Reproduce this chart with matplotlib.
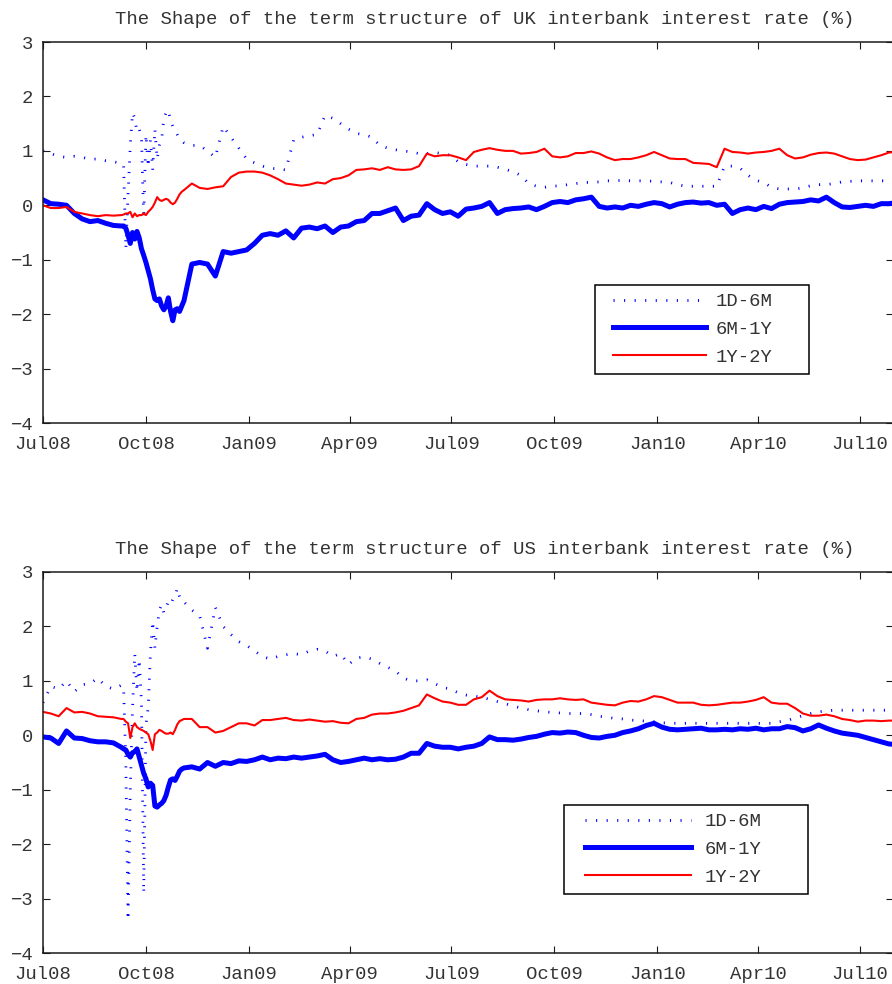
import pandas as pd
import matplotlib
matplotlib.use('Agg')
import matplotlib.pyplot as plt
import matplotlib.dates as mdates
from matplotlib.lines import Line2D
from matplotlib.legend_handler import HandlerLine2D
from datetime import datetime, timedelta

plt.rcParams['font.family'] = ['Liberation Mono', 'DejaVu Sans Mono']
plt.rcParams['font.size'] = 13.6

# sample dates: weekly, every second day through Sep/Oct 2008, then weekly again
dates = (pd.date_range('2008-07-01', '2008-09-09', freq='7D')
         .append(pd.date_range('2008-09-11', '2008-11-02', freq='2D'))
         .append(pd.date_range('2008-11-04', periods=92, freq='7D')))

# ---- UK spreads (%) ----
uk_1d6m = [1.00, 0.95, 0.90, 0.88, 0.90, 0.88, 0.85, 0.85, 0.82, 0.80, 0.77,
           0.75, -0.80, 0.20, 1.10, 1.70, 1.60, 1.35, 1.40, 1.25, -0.25,
           1.30, 0.70, 1.20, 0.65, 1.40, 0.85, 1.10, 1.20, 1.60, 1.70,
           1.75, 1.55, 1.45, 1.40, 1.30, 1.22, 1.20,
           1.15, 1.10, 1.10, 1.00, 0.88, 1.45, 1.25, 1.05, 0.85, 0.78,
           0.72, 0.68, 0.67, 0.65, 1.20, 1.25, 1.28, 1.30, 1.65, 1.60,
           1.50, 1.40, 1.32, 1.30, 1.25, 1.10, 1.05, 1.02, 1.00, 0.98,
           0.95, 0.95, 0.97, 0.95, 0.92, 0.80, 0.75, 0.72, 0.72, 0.72,
           0.70, 0.66, 0.62, 0.55, 0.40, 0.35, 0.33, 0.35, 0.36, 0.38,
           0.40, 0.42, 0.42, 0.43, 0.45, 0.45, 0.46, 0.45, 0.45, 0.45,
           0.44, 0.43, 0.42, 0.38, 0.35, 0.35, 0.35, 0.35, 0.35, 0.72,
           0.72, 0.68, 0.55, 0.46, 0.42, 0.33, 0.30, 0.30, 0.30, 0.32,
           0.36, 0.38, 0.38, 0.40, 0.43, 0.44, 0.45, 0.45, 0.45, 0.45,
           0.45, 0.45]
uk_6m1y = [0.10, 0.03, 0.02, 0.00, -0.15, -0.25, -0.30, -0.28, -0.33, -0.37, -0.38,
           -0.38, -0.42, -0.55, -0.70, -0.50, -0.62, -0.48, -0.60, -0.80, -0.92,
           -1.05, -1.20, -1.35, -1.55, -1.72, -1.75, -1.72, -1.85, -1.92, -1.85,
           -1.70, -1.95, -2.12, -1.92, -1.90, -1.95, -1.85,
           -1.75, -1.08, -1.05, -1.08, -1.30, -0.85, -0.88, -0.85, -0.82, -0.70,
           -0.55, -0.52, -0.55, -0.47, -0.60, -0.42, -0.40, -0.43, -0.38, -0.50,
           -0.40, -0.38, -0.30, -0.28, -0.15, -0.15, -0.10, -0.05, -0.28, -0.20,
           -0.18, 0.03, -0.08, -0.15, -0.12, -0.20, -0.07, -0.05, -0.02, 0.05,
           -0.15, -0.08, -0.06, -0.05, -0.03, -0.08, -0.02, 0.05, 0.07, 0.05,
           0.10, 0.12, 0.15, -0.02, -0.05, -0.03, -0.05, 0.00, -0.02, 0.02,
           0.05, 0.03, -0.03, 0.02, 0.05, 0.06, 0.04, 0.05, 0.00, 0.02,
           -0.15, -0.08, -0.05, -0.08, -0.02, -0.06, 0.02, 0.05, 0.06, 0.07,
           0.10, 0.08, 0.15, 0.05, -0.03, -0.04, -0.02, 0.00, -0.02, 0.03,
           0.03, 0.05]
uk_1y2y = [0.00, -0.05, -0.05, -0.03, -0.12, -0.15, -0.18, -0.20, -0.18, -0.19, -0.18,
           -0.17, -0.15, -0.15, -0.12, -0.22, -0.15, -0.20, -0.18, -0.18, -0.15,
           -0.18, -0.12, -0.08, -0.03, 0.05, 0.15, 0.10, 0.08, 0.10, 0.12,
           0.10, 0.05, 0.02, 0.05, 0.12, 0.20, 0.25,
           0.28, 0.40, 0.32, 0.30, 0.33, 0.35, 0.52, 0.60, 0.62, 0.62,
           0.60, 0.55, 0.48, 0.40, 0.38, 0.36, 0.38, 0.42, 0.40, 0.48,
           0.50, 0.55, 0.65, 0.66, 0.68, 0.65, 0.70, 0.66, 0.65, 0.66,
           0.72, 0.95, 0.90, 0.92, 0.92, 0.88, 0.83, 0.98, 1.02, 1.05,
           1.02, 1.00, 1.00, 0.95, 0.96, 0.98, 1.04, 0.90, 0.88, 0.90,
           0.96, 0.96, 0.99, 0.95, 0.88, 0.83, 0.85, 0.85, 0.88, 0.92,
           0.98, 0.92, 0.86, 0.85, 0.85, 0.78, 0.77, 0.76, 0.70, 1.04,
           0.98, 0.97, 0.95, 0.97, 0.98, 1.00, 1.04, 0.92, 0.86, 0.88,
           0.93, 0.96, 0.97, 0.95, 0.90, 0.85, 0.83, 0.84, 0.88, 0.92,
           0.97, 0.98]

# ---- US spreads (%) ----
us_1d6m = [0.60, 0.90, 0.85, 1.00, 0.80, 0.93, 0.95, 1.05, 0.90, 0.85, 0.92,
           0.90, -0.50, -3.40, -1.00, 0.50, 1.50, 0.80, 1.40, 0.60, -2.90,
           0.20, 0.50, 1.50, 2.10, 1.60, 2.00, 2.30, 2.40, 2.25, 2.35,
           2.45, 2.40, 2.50, 2.55, 2.70, 2.55, 2.45,
           2.45, 2.30, 2.20, 1.60, 2.35, 2.00, 1.85, 1.72, 1.65, 1.55,
           1.45, 1.40, 1.45, 1.48, 1.50, 1.48, 1.55, 1.58, 1.55, 1.45,
           1.50, 1.30, 1.42, 1.44, 1.40, 1.32, 1.25, 1.18, 1.05, 1.00,
           1.00, 1.02, 0.95, 0.88, 0.85, 0.78, 0.74, 0.72, 0.70, 0.66,
           0.62, 0.58, 0.54, 0.50, 0.47, 0.45, 0.43, 0.42, 0.41, 0.40,
           0.40, 0.40, 0.38, 0.35, 0.33, 0.31, 0.30, 0.28, 0.27, 0.26,
           0.25, 0.23, 0.22, 0.22, 0.22, 0.22, 0.22, 0.22, 0.22, 0.22,
           0.22, 0.22, 0.22, 0.22, 0.22, 0.22, 0.25, 0.27, 0.32, 0.36,
           0.40, 0.43, 0.45, 0.46, 0.46, 0.46, 0.46, 0.46, 0.46, 0.46,
           0.46, 0.46]
us_6m1y = [-0.03, -0.05, -0.15, 0.08, -0.05, -0.06, -0.10, -0.12, -0.12, -0.14, -0.22,
           -0.25, -0.27, -0.35, -0.40, -0.32, -0.30, -0.25, -0.40, -0.55, -0.70,
           -0.80, -0.95, -0.88, -0.92, -1.30, -1.32, -1.28, -1.25, -1.20, -1.10,
           -0.95, -0.82, -0.80, -0.83, -0.75, -0.66, -0.62,
           -0.60, -0.58, -0.62, -0.50, -0.57, -0.50, -0.52, -0.47, -0.48, -0.45,
           -0.40, -0.45, -0.42, -0.43, -0.40, -0.42, -0.40, -0.38, -0.35, -0.45,
           -0.50, -0.48, -0.45, -0.42, -0.45, -0.43, -0.45, -0.44, -0.40, -0.33,
           -0.33, -0.15, -0.20, -0.22, -0.22, -0.25, -0.22, -0.20, -0.15, -0.03,
           -0.08, -0.08, -0.09, -0.07, -0.04, -0.02, 0.02, 0.05, 0.04, 0.06,
           0.05, 0.00, -0.04, -0.05, -0.02, 0.00, 0.05, 0.08, 0.12, 0.18,
           0.22, 0.15, 0.11, 0.10, 0.11, 0.12, 0.13, 0.10, 0.10, 0.11,
           0.10, 0.12, 0.11, 0.13, 0.10, 0.12, 0.12, 0.16, 0.14, 0.08,
           0.12, 0.19, 0.13, 0.08, 0.04, 0.02, 0.00, -0.04, -0.08, -0.12,
           -0.16, -0.17]
us_1y2y = [0.43, 0.40, 0.35, 0.50, 0.42, 0.43, 0.40, 0.35, 0.34, 0.33, 0.30,
           0.30, 0.25, 0.22, -0.05, 0.15, 0.22, 0.15, 0.12, 0.10, 0.08,
           0.05, 0.02, -0.10, -0.27, 0.02, 0.05, 0.10, 0.08, 0.05, 0.03,
           0.03, 0.05, 0.02, 0.10, 0.20, 0.26, 0.28,
           0.30, 0.30, 0.15, 0.15, 0.05, 0.08, 0.15, 0.22, 0.22, 0.18,
           0.28, 0.28, 0.30, 0.32, 0.28, 0.27, 0.29, 0.27, 0.25, 0.26,
           0.23, 0.22, 0.30, 0.32, 0.38, 0.40, 0.40, 0.42, 0.45, 0.50,
           0.55, 0.75, 0.68, 0.62, 0.60, 0.56, 0.56, 0.66, 0.70, 0.82,
           0.72, 0.66, 0.65, 0.64, 0.62, 0.65, 0.66, 0.66, 0.68, 0.66,
           0.65, 0.66, 0.60, 0.58, 0.56, 0.55, 0.60, 0.63, 0.62, 0.66,
           0.72, 0.70, 0.65, 0.60, 0.60, 0.60, 0.56, 0.55, 0.56, 0.58,
           0.60, 0.60, 0.62, 0.65, 0.70, 0.60, 0.58, 0.58, 0.50, 0.40,
           0.36, 0.36, 0.38, 0.35, 0.30, 0.28, 0.25, 0.27, 0.27, 0.26,
           0.27, 0.27]

labels = ['1D-6M', '6M-1Y', '1Y-2Y']
yticks = [-4, -3, -2, -1, 0, 1, 2, 3]
x_start = datetime(2008, 7, 1)
x_end = x_start + timedelta(days=759.5)

for s in (uk_1d6m, uk_6m1y, uk_1y2y, us_1d6m, us_6m1y, us_1y2y):
    assert len(s) == len(dates), (len(s), len(dates))

txt = '#333333'
fig = plt.figure(figsize=(8.92, 9.84), dpi=100)


def panel(rect, short, mid, long_, title, leg_box, hlen, mpad):
    ax = fig.add_axes(rect)
    ax.plot(dates, short, color='blue', lw=2, ls=(0, (0.4, 3.4)), label=labels[0])
    ax.plot(dates, mid, color='blue', lw=3.6, label=labels[1])
    ax.plot(dates, long_, color='red', lw=1.5, label=labels[2])
    ax.set_xlim(x_start, x_end)
    ax.set_ylim(-4, 3)
    ax.set_yticks(yticks)
    ax.xaxis.set_major_locator(mdates.MonthLocator(bymonth=[1, 4, 7, 10]))
    ax.xaxis.set_major_formatter(mdates.DateFormatter('%b%y'))
    ax.tick_params(direction='in', length=5, width=0.8, color='#1a1a1a',
                   labelcolor=txt, top=True, right=True)
    ax.tick_params(axis='x', pad=9)
    ax.tick_params(axis='y', pad=7)
    for sp in ax.spines.values():
        sp.set_color('#1a1a1a')
        sp.set_linewidth(1.1)
    ax.text(0.52, 1.058, title, transform=ax.transAxes, ha='center',
            va='center', color=txt)
    x0, top, w = leg_box
    leg = ax.legend(loc='upper left', bbox_to_anchor=(x0, top - 0.3, w, 0.3),
                    mode='expand', borderaxespad=0, borderpad=0.43,
                    handler_map={Line2D: HandlerLine2D(marker_pad=mpad, numpoints=2)},
                    handlelength=hlen, handletextpad=0.02,
                    labelspacing=0.55, fancybox=False, framealpha=1,
                    edgecolor='black', labelcolor=txt)
    leg.get_frame().set_linewidth(1.1)
    return ax


panel([0.0482, 0.5701, 0.9529, 0.3872], uk_1d6m, uk_6m1y, uk_1y2y,
      'The Shape of the term structure of UK interbank interest rate (%)',
      (0.6494, 0.3622, 0.2518), 5.96, 0.53)
panel([0.0482, 0.0315, 0.9529, 0.3872], us_1d6m, us_6m1y, us_1y2y,
      'The Shape of the term structure of US interbank interest rate (%)',
      (0.6129, 0.3885, 0.2871), 6.98, 0.69)

fig.savefig('out.png', dpi=100)
